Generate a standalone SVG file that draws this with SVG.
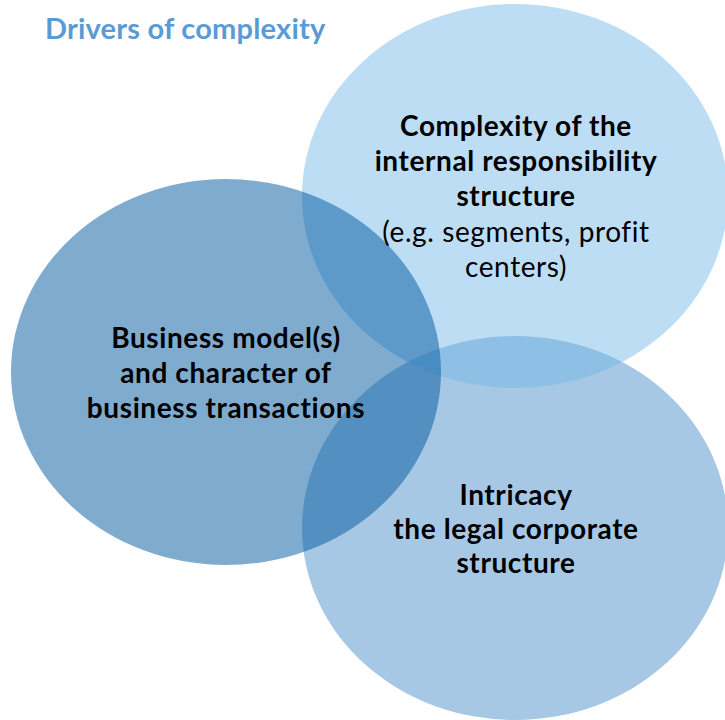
<svg xmlns="http://www.w3.org/2000/svg" width="725" height="720" viewBox="0 0 725 720">
  <style>
    .t { font-family: Lato, "Open Sans", "Liberation Sans", sans-serif; font-size: 28px; letter-spacing: 0.6px; fill: #000; text-anchor: middle; }
    .b { font-weight: bold; }
    .title { font-family: Lato, "Open Sans", "Liberation Sans", sans-serif; font-weight: bold; font-size: 29px; letter-spacing: 0.2px; fill: #5B9BD5; }
  </style>
  <rect width="725" height="720" fill="#fff"/>
  <text class="title" x="45" y="39">Drivers of complexity</text>
  <g id="legal-structure">
    <ellipse cx="515" cy="528" rx="213" ry="192" fill="#A7C8E5"/>
  </g>
  <g id="responsibility-structure">
    <ellipse cx="515" cy="196" rx="213" ry="192" fill="#73B7E8" fill-opacity="0.47"/>
  </g>
  <g id="business-model">
    <ellipse cx="226" cy="372" rx="215" ry="193" fill="#00579D" fill-opacity="0.5"/>
  </g>
  <g id="labels">
    <text class="t b" x="516" y="136">Complexity of the</text>
    <text class="t b" x="516" y="171">internal responsibility</text>
    <text class="t b" x="516" y="206">structure</text>
    <text class="t" x="516" y="242">(e.g. segments, profit</text>
    <text class="t" x="516" y="277">centers)</text>
    <text class="t b" x="226" y="348">Business model(s)</text>
    <text class="t b" x="226" y="383">and character of</text>
    <text class="t b" x="226" y="418">business transactions</text>
    <text class="t b" x="516" y="505">Intricacy</text>
    <text class="t b" x="516" y="539">the legal corporate</text>
    <text class="t b" x="516" y="573">structure</text>
  </g>
  <g id="connectors"/>
</svg>
